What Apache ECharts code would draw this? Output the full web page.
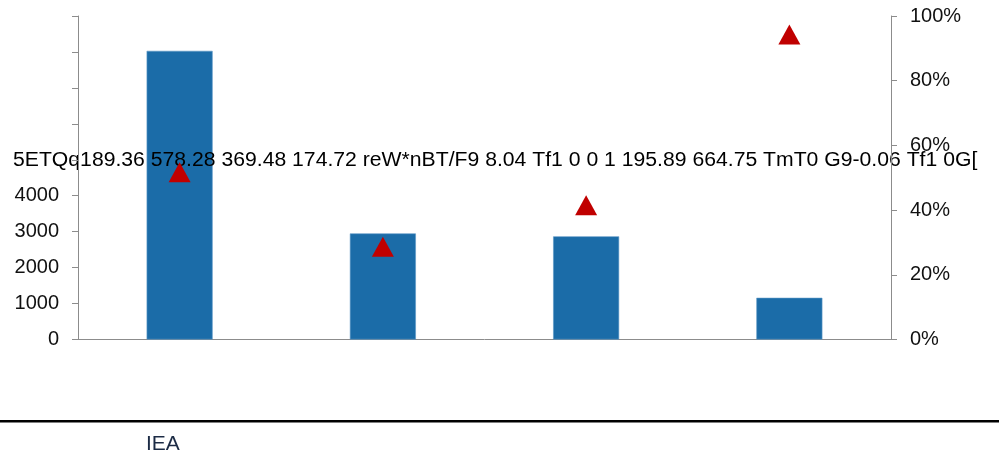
<!DOCTYPE html>
<html>
<head>
<meta charset="utf-8">
<script src="https://cdn.jsdelivr.net/npm/echarts@6/dist/echarts.min.js"></script>
<style>
  html, body { margin: 0; padding: 0; background: #fff; }
  #chart { width: 999px; height: 460px; }
</style>
</head>
<body>
<div id="chart"></div>
<script>
// Four groups: volume on the left axis (bars), share on the right axis (triangles)
const categories = ['G1', 'G2', 'G3', 'G4'];
const volumeValues = [8030, 2950, 2870, 1160];
const shareValues = [0.517, 0.287, 0.415, 0.943];
const leftTicks = [0, 1000, 2000, 3000, 4000];          // labelled ticks on the left axis
const rightTicks = ['0%', '20%', '40%', '60%', '80%', '100%'];
const strayText = '5ETQq189.36 578.28 369.48 174.72 reW*nBT/F9 8.04 Tf1 0 0 1 195.89 664.75 TmT0 G9-0.06 Tf1 0G[';
const sourceText = 'IEA';

const FONT = '"Liberation Sans", Arial, sans-serif';
const chart = echarts.init(document.getElementById('chart'), null, { renderer: 'canvas' });

chart.setOption({
  animation: false,
  backgroundColor: '#fff',
  grid: { left: 78, right: 108, top: 16, bottom: 120.5 },
  xAxis: {
    type: 'category',
    data: categories,
    axisLine: { show: true, lineStyle: { color: '#8c8c8c', width: 1 } },
    axisTick: { show: false },
    axisLabel: { show: false },
    splitLine: { show: false }
  },
  yAxis: [
    {
      type: 'value',
      min: 0, max: 9000, interval: 1000,
      position: 'left',
      z: 5,
      axisLine: { show: true, lineStyle: { color: '#8c8c8c', width: 1 } },
      axisTick: { show: true, inside: false, length: 6, lineStyle: { color: '#8c8c8c' } },
      splitLine: { show: false },
      axisLabel: {
        margin: 19,
        color: '#111',
        fontFamily: FONT,
        fontSize: 20,
        formatter: v => leftTicks.includes(v) ? String(v) : ''
      }
    },
    {
      type: 'value',
      min: 0, max: 1, interval: 0.2,
      position: 'right',
      z: 5,
      axisLine: { show: true, lineStyle: { color: '#8c8c8c', width: 1 } },
      axisTick: { show: true, inside: false, length: 6, lineStyle: { color: '#8c8c8c' } },
      splitLine: { show: false },
      axisLabel: {
        margin: 19,
        color: '#111',
        fontFamily: FONT,
        fontSize: 20,
        formatter: v => rightTicks[Math.round(v * 5)]
      }
    }
  ],
  graphic: [
    {
      type: 'text',
      z: 3,
      x: 13,
      y: 150,
      scaleX: 1.059,
      style: { text: strayText, fill: '#000', font: '20px ' + FONT }
    },
    {
      type: 'rect',
      z: 3,
      shape: { x: 0, y: 420, width: 999, height: 2.5 },
      style: { fill: '#000' }
    },
    {
      type: 'text',
      z: 3,
      left: 146,
      top: 434,
      style: { text: sourceText, fill: '#1c2b45', font: '21px ' + FONT }
    }
  ],
  series: [
    {
      type: 'bar',
      data: volumeValues,
      yAxisIndex: 0,
      barWidth: 66,
      z: 2,
      itemStyle: { color: '#1b6ca8', borderColor: '#5d97c6', borderWidth: 0.6 }
    },
    {
      type: 'scatter',
      data: shareValues,
      yAxisIndex: 1,
      symbol: 'triangle',
      symbolSize: [22, 20],
      z: 4,
      itemStyle: { color: '#c00000', opacity: 1 }
    }
  ]
});
</script>
</body>
</html>
